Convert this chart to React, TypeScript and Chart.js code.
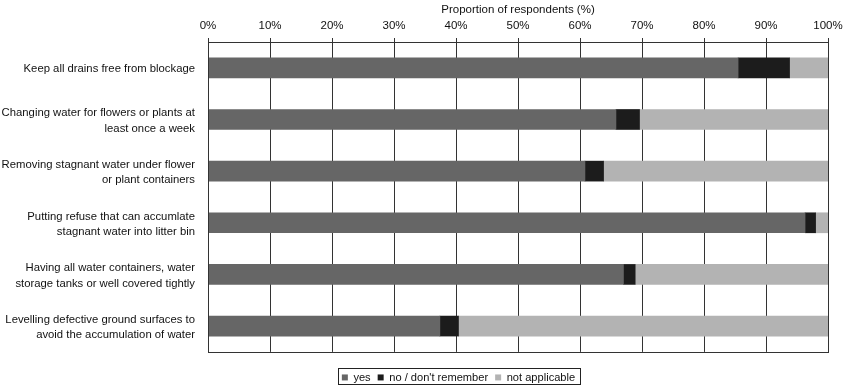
import React, { useEffect, useRef } from "react";
import { Chart, registerables } from "chart.js";

Chart.register(...registerables);

const categories: string[][] = [
  ["Keep all drains free from blockage"],
  ["Changing water for flowers or plants at", "least once a week"],
  ["Removing stagnant water under flower", "or plant containers"],
  ["Putting refuse that can accumlate", "stagnant water into litter bin"],
  ["Having all water containers, water", "storage tanks or well covered tightly"],
  ["Levelling defective ground surfaces to", "avoid the accumulation of water"],
];
const yesValues = [85.5, 65.8, 60.8, 96.3, 67.0, 37.4];
const noValues = [8.3, 3.8, 3.0, 1.7, 1.9, 3.0];
const naValues = [6.2, 30.4, 36.2, 2.0, 31.1, 59.6];
const tickValues = [0, 10, 20, 30, 40, 50, 60, 70, 80, 90, 100];

const FONT = "'Liberation Sans', Arial, sans-serif";
const LEGEND_SHIFT_X = 37;
const LEGEND_SHIFT_Y = 13;
const LEGEND_PAD = 7;
const LEGEND_FONT = 11.1;

const frame = {
  id: "frame",
  afterLayout(chart: any) {
    const lg = chart.legend;
    if (!lg) return;
    lg.left += LEGEND_SHIFT_X;
    lg.right += LEGEND_SHIFT_X;
    lg.top += LEGEND_SHIFT_Y;
    lg.bottom += LEGEND_SHIFT_Y;
  },
  afterDatasetsDraw(chart: any) {
    const { ctx, chartArea } = chart;
    ctx.save();
    ctx.strokeStyle = "#333333";
    ctx.lineWidth = 1;
    ctx.strokeRect(
      Math.round(chartArea.left) + 0.5,
      Math.round(chartArea.top) + 0.5,
      Math.round(chartArea.right - chartArea.left),
      Math.round(chartArea.bottom - chartArea.top)
    );
    ctx.restore();
  },
  afterDraw(chart: any) {
    const lg = chart.legend;
    if (!lg || !lg.lineWidths) return;
    const { ctx } = chart;
    const lw = lg.lineWidths[0];
    const x0 = (lg.left + LEGEND_PAD + lg.right - lw) / 2;
    const x1 = x0 + lw - LEGEND_PAD;
    const yc = lg.top + LEGEND_PAD + LEGEND_FONT / 2;
    ctx.save();
    ctx.strokeStyle = "#222222";
    ctx.lineWidth = 1;
    ctx.strokeRect(Math.round(x0 - 4) + 0.5, Math.round(yc - 9) + 0.5, Math.round(x1 - x0 + 9), 16);
    ctx.restore();
  },
};

export default function App() {
  const ref = useRef<HTMLCanvasElement>(null);
  useEffect(() => {
    document.body.style.margin = "0";
    const chart = new Chart(ref.current!, {
      type: "bar",
      data: {
        labels: categories,
        datasets: [
          { label: "yes", data: yesValues, backgroundColor: "#666666" },
          { label: "no / don't remember", data: noValues, backgroundColor: "#1c1c1c" },
          { label: "not applicable", data: naValues, backgroundColor: "#b3b3b3" },
        ],
      },
      options: {
        indexAxis: "y",
        animation: false,
        responsive: false,
        maintainAspectRatio: false,
        datasets: { bar: { barThickness: 20 } },
        layout: { padding: { left: 0, right: 0, top: 0, bottom: 7 } },
        plugins: {
          tooltip: { enabled: false },
          legend: {
            position: "bottom",
            labels: {
              boxWidth: 6,
              boxHeight: 6,
              padding: LEGEND_PAD,
              color: "#111111",
              font: { family: FONT, size: LEGEND_FONT },
            },
          },
        },
        scales: {
          x: {
            position: "top",
            stacked: true,
            min: 0,
            max: 100,
            afterBuildTicks: (axis: any) => {
              axis.ticks = tickValues.map((v) => ({ value: v }));
            },
            afterFit: (axis: any) => {
              axis.height = 42;
              axis.paddingRight = 15;
              axis.paddingLeft = 0;
            },
            ticks: {
              callback: (v: any) => v + "%",
              color: "#111111",
              padding: 5,
              font: { family: FONT, size: 11.5 },
              maxRotation: 0,
            },
            grid: { color: "#333333", lineWidth: 1, tickLength: 4 },
            border: { display: true, color: "#333333" },
            title: {
              display: true,
              text: "Proportion of respondents (%)",
              color: "#111111",
              font: { family: FONT, size: 11.5 },
              padding: { top: 3, bottom: 1 },
            },
          },
          y: {
            stacked: true,
            afterFit: (axis: any) => {
              axis.width = 208;
            },
            grid: { display: false, drawTicks: false },
            border: { display: true, color: "#333333" },
            ticks: {
              color: "#111111",
              padding: 13,
              labelOffset: 1.5,
              font: { family: FONT, size: 11.3, lineHeight: 1.35 },
            },
          },
        },
      },
      plugins: [frame],
    });
    return () => chart.destroy();
  }, []);
  return (
    <div style={{ width: 843, height: 387 }}>
      <canvas ref={ref} width={843} height={387} style={{ display: "block" }} />
    </div>
  );
}
